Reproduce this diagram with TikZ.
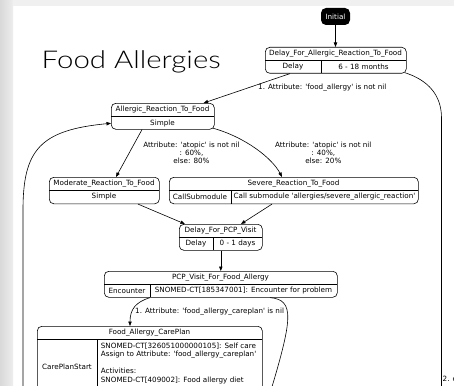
\documentclass[tikz,border=0pt]{standalone}
\usepackage{fontspec}
\setmainfont{DejaVu Sans}
\newfontfamily\titlefont[FakeStretch=1.2]{Lato Light}
\usetikzlibrary{arrows.meta,calc}
\newcommand{\sq}{\textquotesingle}
\tikzset{
  box/.style={draw, rounded corners=4.5pt, line width=0.6pt, inner sep=0pt, anchor=north west},
  initbox/.style={fill=black, text=white, rounded corners=5pt, inner sep=0pt, minimum width=29pt, minimum height=17pt, font=\fontsize{7.2}{8}\selectfont},
  txt/.style={inner sep=0pt, font=\fontsize{7.2}{8}\selectfont},
  div/.style={line width=0.6pt},
  arr/.style={-{Triangle[length=4.5pt,width=3.4pt]}, line width=0.6pt},
  conn/.style={line width=0.6pt},
}
\begin{document}
\begin{tikzpicture}[x=1pt,y=-1pt]
\useasboundingbox (0,0) rectangle (454,385);
\clip (0,0) rectangle (454,385);
\fill[white] (0,0) rectangle (454,385);
\shade[left color=gray!30, right color=gray!14] (0,0) rectangle (13,385);
\fill[gray!12] (13,0) rectangle (454,6);

% title
\node[inner sep=0pt, anchor=base west, font=\titlefont\fontsize{24.5}{28}\selectfont] (title) at (41.5,68.3) {Food Allergies};

% Initial
\node[initbox] (init) at (335.5,16.5) {Initial};

% Delay_For_Allergic_Reaction_To_Food
\node[box, minimum width=141pt, minimum height=26pt] (dA) at (265,47) {};
\draw[div] (265,60) -- (406,60) (321,60) -- (321,73);
\node[txt] (dAh) at (335.5,53.5) {Delay\_For\_Allergic\_Reaction\_To\_Food};
\node[txt] (dAa) at (293,66.7) {Delay};
\node[txt] (dAb) at (363.5,66.7) {6 - 18 months};

% Allergic_Reaction_To_Food
\node[box, minimum width=103pt, minimum height=26pt] (ar) at (111,103) {};
\draw[div] (111,116.5) -- (214,116.5);
\node[txt] (arh) at (162.5,110) {Allergic\_Reaction\_To\_Food};
\node[txt] (ara) at (162.5,123.2) {Simple};

% Moderate_Reaction_To_Food
\node[box, minimum width=110pt, minimum height=26.5pt] (mod) at (49,177) {};
\draw[div] (49,190) -- (159,190);
\node[txt] (modh) at (104,183.5) {Moderate\_Reaction\_To\_Food};
\node[txt] (moda) at (104,197) {Simple};

% Severe_Reaction_To_Food
\node[box, minimum width=249pt, minimum height=26.5pt] (sev) at (169,177) {};
\draw[div] (169,190) -- (418,190) (231,190) -- (231,203.5);
\node[txt] (sevh) at (293.5,183.5) {Severe\_Reaction\_To\_Food};
\node[txt] (seva) at (200,197) {CallSubmodule};
\node[txt] (sevb) at (324.5,197) {Call submodule \sq allergies/severe\_allergic\_reaction\sq};

% Delay_For_PCP_Visit
\node[box, minimum width=83pt, minimum height=26pt] (dP) at (179,224) {};
\draw[div] (179,237) -- (262,237) (213,237) -- (213,250);
\node[txt] (dPh) at (220.5,230.5) {Delay\_For\_PCP\_Visit};
\node[txt] (dPa) at (196,243.7) {Delay};
\node[txt] (dPb) at (237.5,243.7) {0 - 1 days};

% PCP_Visit_For_Food_Allergy
\node[box, minimum width=233pt, minimum height=26pt] (pcp) at (104,271) {};
\draw[div] (104,284) -- (337,284) (150,284) -- (150,297);
\node[txt] (pcph) at (220.5,277.5) {PCP\_Visit\_For\_Food\_Allergy};
\node[txt] (pcpa) at (127,290.7) {Encounter};
\node[txt] (pcpb) at (243.5,290.7) {SNOMED-CT[185347001]: Encounter for problem};

% Food_Allergy_CarePlan
\node[box, minimum width=225pt, minimum height=100pt] (cp) at (37,326) {};
\draw[div] (37,339) -- (262,339) (97,339) -- (97,426);
\node[txt] (cph) at (149.5,332.5) {Food\_Allergy\_CarePlan};
\node[txt] (cpa) at (67,367) {CarePlanStart};
\node[txt, anchor=west] (cpb1) at (100.7,346.3) {SNOMED-CT[326051000000105]: Self care};
\node[txt, anchor=west] (cpb2) at (100.7,354.8) {Assign to Attribute: \sq food\_allergy\_careplan\sq};
\node[txt, anchor=west] (cpb3) at (100.7,371.3) {Activities:};
\node[txt, anchor=west] (cpb4) at (100.7,380.8) {SNOMED-CT[409002]: Food allergy diet};

% free ends below the picture
\coordinate (elseEnd) at (441.5,400);
\coordinate (pcpEnd) at (268,400);
\coordinate (loopStart) at (23,400);

% connectors
\draw[arr] (init.south) -- (init.south |- dA.north);
\draw[arr] ($(dA.south west)+(25,0)$) -- ($(ar.north east)+(-11,0)$);
\node[txt, anchor=west] (l1) at (258,87.7) {1. Attribute: \sq food\_allergy\sq{} is not nil};
\draw[conn] ($(dA.south east)+(-2,-1)$) .. controls (428,80) and (441.5,95) .. (441.5,118) -- (elseEnd);
\node[txt, anchor=west] (l2) at (442.5,379.3) {2. else};

\draw[arr] ($(ar.south west)+(31,0)$) -- ($(mod.north west)+(67,0)$);
\node[txt, align=center] (l3) at (191.5,153) {Attribute: \sq atopic\sq{} is not nil\\: 60\%,\\else: 80\%};
\draw[arr] ($(ar.south east)+(-2,-1.5)$) .. controls (245,137) and (272,158) .. ($(sev.north west)+(113,0)$);
\node[txt, align=center] (l4) at (323.3,153) {Attribute: \sq atopic\sq{} is not nil\\: 40\%,\\else: 20\%};

\draw[arr] ($(mod.south west)+(89,0)$) -- ($(dP.north west)+(6,0)$);
\draw[arr] ($(sev.south west)+(103,0)$) -- ($(dP.north west)+(62,0)$);
\draw[arr] (dP.south) -- (dP.south |- pcp.north);

\draw[arr] ($(pcp.south west)+(46,0)$) .. controls (136,302) and (130,309) .. ($(cp.north west)+(93,0)$);
\node[txt, anchor=west] (l5) at (135,311.7) {1. Attribute: \sq food\_allergy\_careplan\sq{} is nil};
\draw[conn] ($(pcp.south west)+(166,0)$) .. controls (295,300) and (293,318) .. (pcpEnd);

\draw[arr] (loopStart) -- (23,210) .. controls (23,150) and (40,130) .. ($(ar.west)+(0,7)$);
\end{tikzpicture}
\end{document}
